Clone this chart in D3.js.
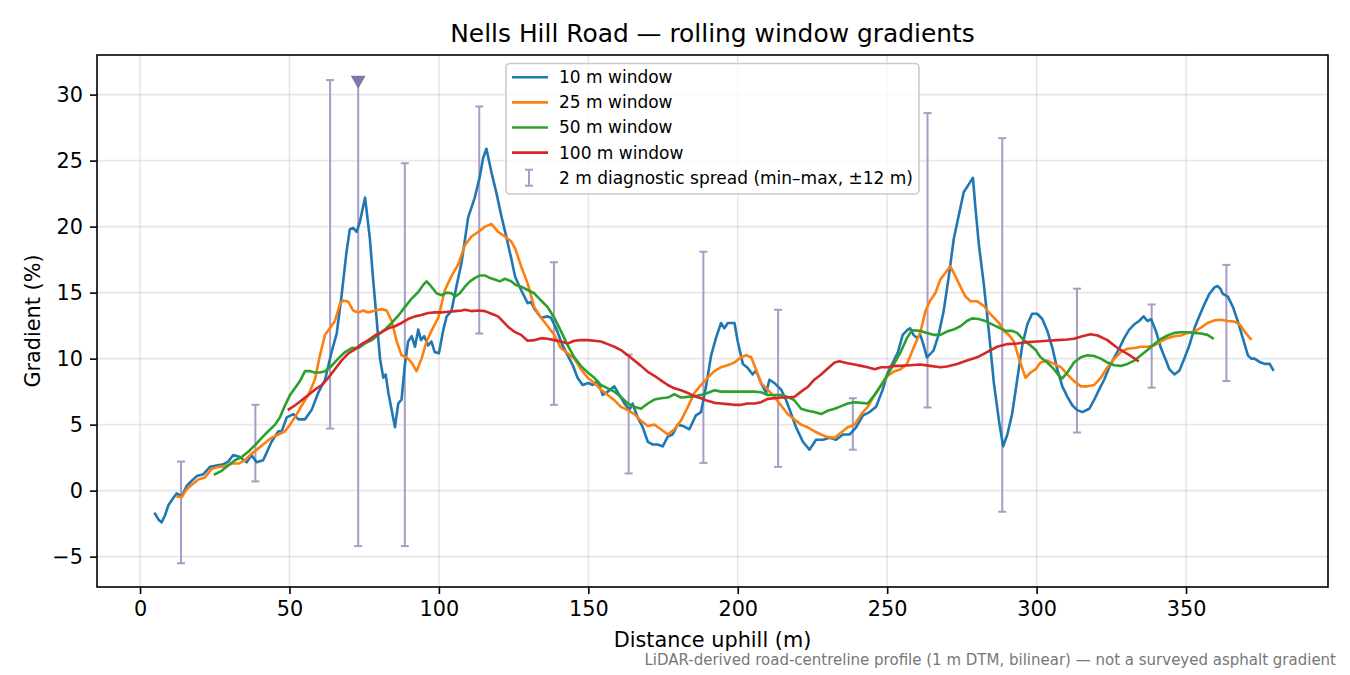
<!DOCTYPE html>
<html>
<head>
<meta charset="utf-8">
<script src="https://cdn.jsdelivr.net/npm/d3@7"></script>
<style>
  body { margin: 0; background: #fff; }
  svg { display: block; font-family: "DejaVu Sans", sans-serif; }
</style>
</head>
<body>
<div id="chart"></div>
<script>
// rolling window gradients, [distance m, gradient %]
var win10 = [[5.0,-1.75],[6.2,-2.2],[7.2,-2.4],[8.3,-1.9],[9.5,-1.1],[11,-0.6],[12.3,-0.2],[13.9,-0.45],[15.6,0.35],[17.3,0.75],[19.0,1.1],[21.2,1.25],[23.4,1.8],[25.6,1.9],[27.9,2.0],[29.5,2.2],[31.2,2.7],[33.4,2.55],[35.7,2.15],[37.3,2.7],[39.0,2.15],[41.2,2.3],[42.6,3.0],[44.0,3.7],[46.3,4.5],[47.4,4.5],[49.1,5.55],[51.3,5.8],[53.0,5.4],[55.2,5.4],[57.4,6.1],[59.6,7.4],[61.9,8.4],[64.1,10.5],[65.8,11.9],[67.4,14.7],[69.1,18.1],[70.2,19.8],[71.3,19.9],[72.5,19.6],[73.6,20.4],[75.3,22.2],[76.9,19.1],[78.0,16.0],[79.2,12.9],[80.3,10.0],[81.4,8.55],[82.2,8.8],[83.1,7.4],[84.2,6.1],[85.3,4.8],[86.4,6.6],[87.5,6.9],[88.6,9.5],[89.7,11.3],[90.9,11.7],[92.0,10.9],[93.1,12.2],[94.0,11.4],[95.1,11.7],[96.4,11.0],[97.5,11.3],[98.6,10.5],[100.0,10.4],[101.4,12.1],[102.6,13.2],[104.2,13.6],[105.9,15.5],[107.6,17.3],[109.8,20.7],[112.0,22.2],[113.7,23.8],[114.8,25.2],[115.9,25.9],[117.6,24.1],[119.3,22.5],[121.0,20.7],[122.6,19.2],[124.3,17.5],[125.5,16.2],[127.5,15.2],[129.7,14.2],[130.8,14.3],[131.9,13.8],[134.2,13.1],[136.4,13.2],[137.5,13.1],[139.2,12.3],[141.4,11.0],[143.1,10.25],[144.8,9.5],[146.4,8.55],[148.1,8.0],[150.0,8.15],[151.5,8.0],[153.1,8.3],[154.8,7.25],[156.5,7.5],[158.7,7.9],[160.4,7.25],[162.1,6.6],[163.7,6.1],[164.8,6.6],[166.5,5.55],[168.2,4.8],[169.9,3.7],[171.5,3.5],[173.2,3.5],[174.9,3.35],[176.6,4.1],[178.2,4.25],[179.9,5.0],[181.6,4.9],[183.8,4.65],[186.0,5.7],[187.7,5.95],[189.4,7.9],[191.1,10.25],[192.7,11.55],[194.4,12.7],[195.5,12.3],[196.7,12.7],[198.9,12.7],[200.0,11.3],[201.7,9.6],[203.3,9.3],[205.0,8.8],[206.1,9.1],[207.8,8.15],[209.5,7.4],[210.6,8.4],[212.3,8.15],[214.5,7.65],[216.2,6.85],[217.9,5.8],[219.5,4.8],[221.8,3.7],[224.0,3.1],[226.2,3.85],[228.5,3.85],[230.7,4.0],[232.9,3.85],[235.2,4.25],[237.4,4.25],[239.6,4.8],[241.9,5.7],[244.1,5.95],[246.3,6.35],[248.5,7.65],[250.2,8.95],[251.9,9.7],[253.6,10.5],[255.2,11.8],[256.9,12.2],[257.7,12.3],[258.8,11.8],[260.0,11.55],[261.1,11.8],[262.2,11.0],[263.3,10.1],[265.5,10.6],[267.2,11.8],[268.9,13.6],[270.6,16.2],[272.3,19.1],[274.0,20.9],[275.6,22.6],[277.3,23.2],[278.7,23.7],[279.5,21.5],[280.7,18.6],[282.3,15.7],[284.0,12.1],[285.7,8.15],[287.4,5.3],[288.8,3.35],[290.2,4.25],[291.8,5.8],[293.5,8.4],[295.2,11.0],[296.9,12.6],[298.5,13.4],[300.2,13.4],[301.9,13.0],[303.6,12.1],[305.3,10.8],[306.9,9.2],[308.6,7.9],[310.3,7.1],[312.0,6.45],[313.6,6.1],[315.3,5.95],[317.6,6.2],[319.2,6.85],[320.9,7.65],[322.6,8.4],[324.3,9.35],[326.0,10.1],[327.6,10.75],[329.3,11.55],[331.0,12.2],[332.7,12.6],[334.3,12.85],[335.8,13.2],[337.1,12.85],[338.3,13.0],[339.9,12.1],[341.6,10.8],[343.3,9.85],[344.4,9.2],[346.1,8.8],[347.8,9.1],[349.4,10.0],[351.1,11.0],[352.8,12.3],[354.5,13.25],[356.2,14.15],[357.8,14.9],[359.5,15.4],[360.5,15.5],[361.5,15.3],[362.3,14.9],[364.0,14.7],[365.7,13.9],[367.3,12.85],[369.0,11.55],[370.7,10.25],[371.8,10.0],[372.9,10.0],[374.6,9.75],[376.3,9.6],[378.0,9.6],[379.1,9.15]];

var win25 = [[12.6,-0.45],[13.9,-0.5],[15.6,0.1],[17.3,0.45],[19.5,0.85],[21.7,1.0],[24.0,1.65],[26.2,1.8],[28.4,1.85],[30.7,2.05],[32.9,2.05],[35.1,2.3],[37.3,2.8],[39.6,3.2],[41.8,3.6],[44.0,4.0],[46.3,4.25],[48.5,4.5],[50.2,5.0],[51.8,5.55],[54.1,6.45],[56.3,7.25],[58.5,8.4],[60.2,10.25],[61.9,11.8],[63.5,12.3],[65.2,12.85],[66.9,14.15],[68.0,14.4],[69.7,14.3],[71.3,13.65],[73.0,13.5],[74.7,13.65],[76.4,13.5],[78.6,13.65],[80.8,13.75],[82.5,13.65],[84.2,12.85],[85.9,11.3],[87.5,10.25],[89.2,10.1],[90.9,9.7],[92.5,9.05],[94.2,10.0],[95.9,11.3],[97.5,12.1],[99.8,13.1],[102.0,15.2],[104.2,16.25],[106.5,17.15],[108.7,18.6],[110.9,19.25],[113.2,19.6],[115.4,20.0],[117.6,20.2],[119.8,19.6],[122.1,19.25],[124.3,18.85],[125.6,18.3],[127.5,17.0],[129.7,15.7],[131.9,13.9],[134.2,13.1],[136.4,12.45],[138.6,11.8],[140.8,10.8],[143.1,10.4],[145.3,10.0],[147.5,9.2],[149.8,8.55],[152.0,8.15],[154.2,7.65],[156.5,7.25],[158.7,6.85],[160.9,6.35],[163.2,6.1],[165.4,5.8],[167.6,5.3],[169.9,4.9],[172.1,5.0],[174.3,4.65],[176.6,4.25],[178.8,4.65],[181.0,5.3],[183.3,6.35],[185.5,7.4],[187.7,8.0],[189.9,8.55],[192.2,9.05],[194.4,9.35],[196.6,9.5],[198.9,9.7],[201.1,10.1],[202.8,10.25],[204.5,10.1],[206.1,9.2],[207.8,8.15],[210.0,7.65],[212.3,7.1],[214.5,6.45],[216.7,5.8],[218.9,5.4],[221.2,5.0],[223.4,4.8],[225.6,4.5],[227.9,4.25],[230.1,4.05],[232.4,4.0],[234.6,4.4],[236.8,4.8],[239.1,5.0],[241.3,5.8],[243.5,6.35],[245.8,7.25],[248.0,8.0],[250.2,8.7],[252.5,9.05],[254.5,9.2],[256.6,9.6],[258.8,10.8],[261.1,12.0],[262.8,13.6],[264.4,14.4],[266.1,14.95],[267.8,16.0],[269.5,16.5],[271.1,17.0],[272.8,16.25],[274.5,15.45],[276.2,14.7],[277.9,14.35],[280.1,14.35],[282.3,14.0],[284.0,13.5],[285.7,13.1],[287.4,12.7],[289.0,12.1],[290.7,11.8],[292.4,11.3],[294.1,10.0],[296.3,8.55],[298.0,8.95],[299.7,9.2],[301.3,9.7],[303.6,9.85],[305.8,9.6],[308.1,9.35],[310.3,8.8],[312.5,8.3],[314.8,7.9],[317.0,7.9],[319.2,8.0],[321.5,8.55],[323.7,9.35],[326.0,10.0],[328.2,10.5],[330.4,10.75],[332.7,10.8],[334.9,10.9],[337.1,10.9],[339.4,11.0],[341.6,11.3],[343.8,11.55],[346.1,11.7],[348.3,11.75],[350.6,11.95],[352.8,12.05],[355.0,12.35],[357.2,12.7],[359.5,12.9],[361.7,12.95],[364.0,12.85],[366.2,12.8],[367.9,12.6],[369.6,12.05],[371.6,11.5]];

var win50 = [[25.1,1.25],[27.3,1.5],[29.5,1.9],[31.8,2.3],[34.0,2.55],[36.2,2.95],[38.5,3.45],[40.7,4.0],[42.9,4.5],[45.2,5.0],[46.8,5.55],[48.5,6.45],[50.2,7.25],[51.8,7.75],[53.5,8.3],[55.2,9.05],[56.9,9.05],[58.5,8.95],[60.2,8.95],[61.9,9.05],[64.1,9.45],[66.3,10.0],[68.6,10.5],[70.8,10.8],[73.0,10.8],[75.3,11.15],[77.5,11.4],[79.7,11.8],[81.9,12.2],[84.2,12.7],[86.4,13.25],[88.6,13.9],[90.9,14.55],[93.1,15.05],[94.8,15.6],[95.9,15.85],[97.5,15.45],[99.2,14.95],[100.9,14.8],[102.6,15.0],[104.2,14.95],[105.4,14.7],[107.0,14.95],[108.7,15.45],[110.4,15.85],[112.0,16.1],[113.7,16.3],[115.4,16.3],[117.1,16.1],[118.7,16.0],[120.4,15.85],[122.1,16.05],[124.3,15.85],[125.6,15.6],[127.5,15.45],[129.7,15.2],[131.9,14.95],[134.2,14.4],[136.4,13.9],[138.6,13.1],[140.8,12.1],[143.1,11.0],[145.3,10.1],[147.5,9.45],[149.8,8.95],[152.0,8.55],[154.2,8.0],[156.5,7.75],[158.7,7.5],[160.9,7.1],[163.2,6.6],[165.4,6.35],[167.6,6.2],[169.9,6.6],[172.1,6.9],[174.3,7.0],[176.6,7.05],[178.8,7.3],[181.0,7.05],[183.3,7.1],[185.5,7.15],[187.7,7.25],[189.9,7.4],[192.2,7.6],[194.4,7.5],[196.6,7.5],[198.9,7.5],[201.1,7.5],[203.3,7.5],[205.6,7.5],[207.8,7.45],[210.0,7.25],[212.3,7.25],[214.5,7.25],[216.7,7.1],[218.9,6.85],[221.2,6.2],[223.4,6.05],[225.6,5.95],[227.9,5.8],[230.1,6.05],[232.4,6.2],[234.6,6.4],[236.8,6.6],[239.1,6.7],[241.3,6.65],[243.5,6.6],[245.8,7.25],[248.0,8.0],[250.2,8.8],[252.5,9.7],[254.5,10.5],[256.6,11.55],[258.3,12.15],[261.1,12.1],[263.3,11.95],[265.5,11.8],[267.8,11.8],[270.0,12.05],[272.2,12.2],[274.5,12.45],[276.7,12.85],[278.4,13.05],[280.6,13.0],[282.8,12.85],[285.1,12.6],[287.4,12.35],[289.6,12.1],[291.8,12.1],[293.5,11.95],[295.7,11.4],[298.0,11.0],[299.7,10.65],[301.3,10.1],[303.6,9.7],[305.8,9.2],[307.5,8.7],[308.6,8.5],[310.3,8.95],[312.5,9.7],[314.8,10.1],[317.0,10.25],[319.2,10.2],[321.5,10.0],[323.7,9.7],[326.0,9.5],[328.2,9.45],[330.4,9.6],[332.7,9.85],[334.9,10.25],[337.1,10.65],[339.4,11.1],[341.6,11.5],[343.8,11.75],[346.1,11.95],[348.3,12.0],[350.6,12.0],[352.8,11.95],[355.0,11.9],[357.2,11.8],[358.9,11.55]];

var win100 = [[49.8,6.15],[51.8,6.45],[54.1,6.85],[56.3,7.25],[58.5,7.65],[60.8,8.0],[63.0,8.55],[65.2,9.2],[67.4,9.85],[69.7,10.4],[71.9,10.7],[74.1,11.1],[76.4,11.4],[78.6,11.75],[80.8,12.0],[83.1,12.3],[85.3,12.45],[87.5,12.7],[89.7,13.0],[92.0,13.2],[94.2,13.3],[96.4,13.45],[98.7,13.5],[100.9,13.5],[103.1,13.55],[105.4,13.6],[107.6,13.65],[108.7,13.7],[110.9,13.6],[113.2,13.65],[115.4,13.6],[117.6,13.4],[119.8,13.2],[121.5,12.8],[123.2,12.4],[125.2,12.05],[127.5,11.8],[129.7,11.35],[131.9,11.4],[134.2,11.55],[136.4,11.5],[138.6,11.4],[140.8,11.3],[143.1,11.15],[145.3,11.35],[147.5,11.4],[149.8,11.4],[152.0,11.35],[154.2,11.3],[156.5,11.1],[158.7,10.9],[160.9,10.65],[163.2,10.25],[165.4,9.85],[167.6,9.45],[169.9,9.0],[172.1,8.7],[174.3,8.35],[176.6,8.0],[178.8,7.75],[181.0,7.6],[183.3,7.4],[185.5,7.15],[187.7,7.0],[189.9,6.8],[192.2,6.65],[194.4,6.6],[196.6,6.55],[198.9,6.5],[201.1,6.5],[203.3,6.6],[205.6,6.6],[207.8,6.7],[210.0,6.95],[212.3,7.0],[214.5,7.05],[216.7,7.05],[218.9,7.1],[221.2,7.5],[223.4,7.85],[225.6,8.4],[227.9,8.8],[230.1,9.25],[232.4,9.7],[234.0,9.8],[236.8,9.65],[239.1,9.55],[241.3,9.45],[243.5,9.35],[245.8,9.2],[248.0,9.35],[250.2,9.35],[252.5,9.45],[254.5,9.45],[257.7,9.5],[261.1,9.55],[264.4,9.45],[267.8,9.35],[270.0,9.4],[273.4,9.6],[276.7,9.85],[280.1,10.1],[283.4,10.5],[286.8,10.9],[290.2,11.1],[293.5,11.15],[296.9,11.25],[300.2,11.3],[303.6,11.35],[306.9,11.4],[310.3,11.45],[312.5,11.5],[315.3,11.7],[318.1,11.85],[320.4,11.75],[323.7,11.4],[326.5,10.9],[329.3,10.5],[331.5,10.2],[333.8,9.85]];

// 2 m diagnostic spread (min-max within +-12 m)
var spreadX  = [13.7, 38.6, 63.6, 73.0, 88.6, 113.5, 138.5, 163.5, 188.5, 213.5, 238.5, 263.5, 288.5, 313.5, 338.5, 363.5];
var spreadLo = [-5.5, 0.7, 4.7, -4.2, -4.2, 11.9, 6.5, 1.3, 2.1, 1.8, 3.1, 6.3, -1.6, 4.4, 7.8, 8.3];
var spreadHi = [2.2, 6.5, 31.1, 31.1, 24.8, 29.1, 17.3, 10.3, 18.1, 13.7, 7.0, 28.6, 26.7, 15.3, 14.1, 17.1];

// steepest 2 m point
var peakX = 73.0, peakY = 31.1;

var xTicks = [0, 50, 100, 150, 200, 250, 300, 350];
var yTicks = [-5, 0, 5, 10, 15, 20, 25, 30];

var seriesNames = ["10 m window", "25 m window", "50 m window", "100 m window"];
var seriesColors = ["#1f77b4", "#ff7f0e", "#2ca02c", "#d62728"];
var spreadLabel = "2 m diagnostic spread (min\u2013max, \u00b112 m)";

var W = 1350, H = 675;
var mLeft = 97, mRight = 1328, mTop = 55, mBottom = 587;

var svg = d3.select("#chart").append("svg")
    .attr("width", W).attr("height", H);

var x = d3.scaleLinear().domain([-14.4, 397.5]).range([mLeft, mRight]);
var y = d3.scaleLinear().domain([-7.3, 33.0]).range([mBottom, mTop]);

// grid
svg.append("g").selectAll("line")
    .data(xTicks).join("line")
    .attr("x1", d => x(d)).attr("x2", d => x(d))
    .attr("y1", mTop).attr("y2", mBottom)
    .attr("stroke", "#b0b0b0").attr("stroke-opacity", 0.3).attr("stroke-width", 1.6);
svg.append("g").selectAll("line")
    .data(yTicks).join("line")
    .attr("x1", mLeft).attr("x2", mRight)
    .attr("y1", d => y(d)).attr("y2", d => y(d))
    .attr("stroke", "#b0b0b0").attr("stroke-opacity", 0.3).attr("stroke-width", 1.6);

// clip to the axes box
svg.append("clipPath").attr("id", "plotclip")
    .append("rect").attr("x", mLeft).attr("y", mTop)
    .attr("width", mRight - mLeft).attr("height", mBottom - mTop);
var plot = svg.append("g").attr("clip-path", "url(#plotclip)");

// error bars
var spreadColor = "#a89cc6";
var spread = spreadX.map((d, i) => ({ x: d, lo: spreadLo[i], hi: spreadHi[i] }));
var eb = plot.append("g").attr("stroke", spreadColor).attr("stroke-width", 2);
eb.selectAll("line.stem").data(spread).join("line").attr("class", "stem")
    .attr("x1", d => x(d.x)).attr("x2", d => x(d.x))
    .attr("y1", d => y(d.lo)).attr("y2", d => y(d.hi));
eb.selectAll("line.lo").data(spread).join("line").attr("class", "lo")
    .attr("x1", d => x(d.x) - 4).attr("x2", d => x(d.x) + 4)
    .attr("y1", d => y(d.lo)).attr("y2", d => y(d.lo));
eb.selectAll("line.hi").data(spread).join("line").attr("class", "hi")
    .attr("x1", d => x(d.x) - 4).attr("x2", d => x(d.x) + 4)
    .attr("y1", d => y(d.hi)).attr("y2", d => y(d.hi));

// lines
var line = d3.line().x(d => x(d[0])).y(d => y(d[1]));
[win10, win25, win50, win100].forEach(function (s, i) {
    plot.append("path")
        .datum(s)
        .attr("d", line)
        .attr("fill", "none")
        .attr("stroke", seriesColors[i])
        .attr("stroke-width", 2.6)
        .attr("stroke-linejoin", "round")
        .attr("stroke-linecap", "square");
});

// steepest point marker
var tri = d3.symbol().type(d3.symbolTriangle).size(95);
svg.append("path")
    .attr("d", tri)
    .attr("transform", "translate(" + x(peakX) + "," + y(peakY) + ") rotate(180)")
    .attr("fill", "#8474aa");

// axes
var xAxis = svg.append("g")
    .attr("transform", "translate(0," + mBottom + ")")
    .call(d3.axisBottom(x).tickValues(xTicks).tickFormat(d3.format("d"))
        .tickSizeInner(7).tickSizeOuter(0).tickPadding(7));
var yAxis = svg.append("g")
    .attr("transform", "translate(" + mLeft + ",0)")
    .call(d3.axisLeft(y).tickValues(yTicks).tickFormat(d => d < 0 ? "\u2212" + Math.abs(d) : d)
        .tickSizeInner(7).tickSizeOuter(0).tickPadding(7));
[xAxis, yAxis].forEach(function (a) {
    a.select(".domain").remove();
    a.selectAll(".tick line").attr("stroke", "#000").attr("stroke-width", 1.6);
    a.selectAll(".tick text").attr("fill", "#000")
        .style("font-family", "DejaVu Sans").style("font-size", "20.8px");
});

// frame
svg.append("rect")
    .attr("x", mLeft).attr("y", mTop)
    .attr("width", mRight - mLeft).attr("height", mBottom - mTop)
    .attr("fill", "none").attr("stroke", "#000").attr("stroke-width", 1.6);

// texts
svg.append("text")
    .attr("x", (mLeft + mRight) / 2).attr("y", 42)
    .attr("text-anchor", "middle").style("font-size", "24.9px")
    .text("Nells Hill Road \u2014 rolling window gradients");
svg.append("text")
    .attr("x", (mLeft + mRight) / 2).attr("y", 647)
    .attr("text-anchor", "middle").style("font-size", "20.8px")
    .text("Distance uphill (m)");
svg.append("text")
    .attr("transform", "translate(40," + (mTop + mBottom) / 2 + ") rotate(-90)")
    .attr("text-anchor", "middle").style("font-size", "20.8px")
    .text("Gradient (%)");
svg.append("text")
    .attr("x", 1336).attr("y", 665)
    .attr("text-anchor", "end").style("font-size", "15px").attr("fill", "#777")
    .text("LiDAR-derived road-centreline profile (1 m DTM, bilinear) \u2014 not a surveyed asphalt gradient");

// legend
var lg = svg.append("g");
lg.append("rect")
    .attr("x", 506).attr("y", 63.5).attr("width", 413).attr("height", 130.5)
    .attr("rx", 4).attr("fill", "#fff").attr("fill-opacity", 0.8)
    .attr("stroke", "#cccccc").attr("stroke-width", 1.6);
var rowY = d3.scaleLinear().domain([0, 4]).range([77.3, 177.7]);
seriesNames.forEach(function (name, i) {
    lg.append("line")
        .attr("x1", 512).attr("x2", 548)
        .attr("y1", rowY(i)).attr("y2", rowY(i))
        .attr("stroke", seriesColors[i]).attr("stroke-width", 2.6);
    lg.append("text")
        .attr("x", 559).attr("y", rowY(i)).attr("dy", "0.35em")
        .style("font-size", "17px").text(name);
});
var ly = rowY(4);
lg.append("line").attr("x1", 529).attr("x2", 529).attr("y1", ly - 8).attr("y2", ly + 8)
    .attr("stroke", spreadColor).attr("stroke-width", 2);
lg.append("line").attr("x1", 525).attr("x2", 533).attr("y1", ly - 8).attr("y2", ly - 8)
    .attr("stroke", spreadColor).attr("stroke-width", 2);
lg.append("line").attr("x1", 525).attr("x2", 533).attr("y1", ly + 8).attr("y2", ly + 8)
    .attr("stroke", spreadColor).attr("stroke-width", 2);
lg.append("text")
    .attr("x", 559).attr("y", ly).attr("dy", "0.35em")
    .style("font-size", "17px").text(spreadLabel);
</script>
</body>
</html>
